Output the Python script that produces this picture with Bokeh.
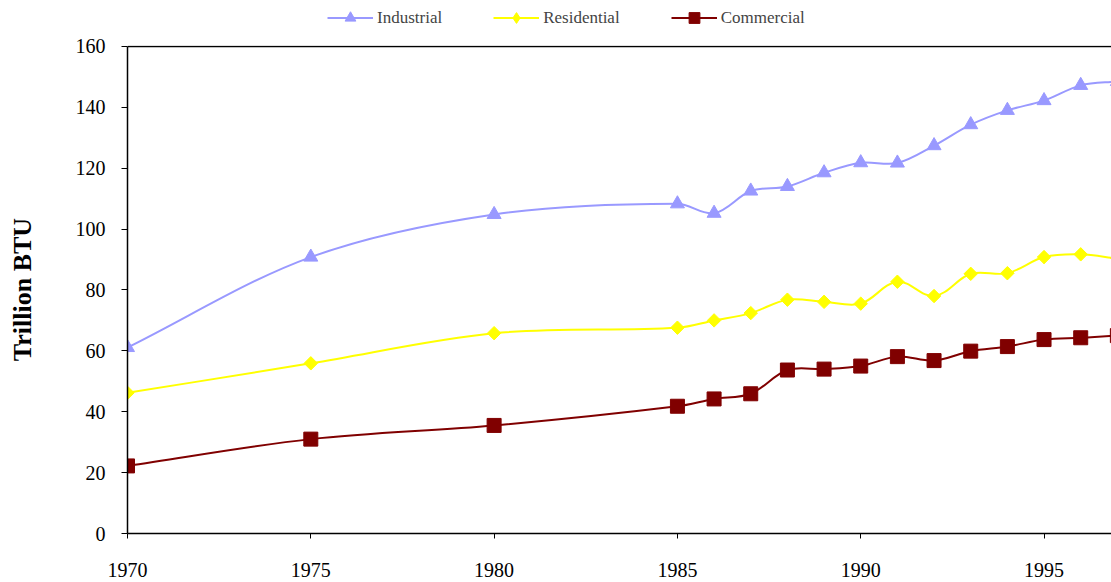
import numpy as np
from bokeh.plotting import figure
from bokeh.layouts import column
from bokeh.models import Legend, LegendItem, Span, Range1d, FixedTicker
from bokeh.embed import file_html
from bokeh.resources import INLINE

years = [1970, 1975, 1980, 1985, 1986, 1987, 1988, 1989, 1990, 1991,
         1992, 1993, 1994, 1995, 1996, 1997]
industrial = [61.1, 90.8, 104.8, 108.3, 105.2, 112.5, 114.0, 118.5, 121.8, 121.7,
              127.4, 134.3, 139.0, 142.2, 147.2, 148.5]
residential = [46.2, 55.9, 65.8, 67.6, 70.0, 72.4, 76.8, 76.1, 75.5, 82.7,
               78.0, 85.3, 85.5, 90.8, 91.7, 90.3]
commercial = [22.2, 31.0, 35.5, 41.8, 44.2, 45.9, 53.7, 54.0, 55.0, 58.1,
              56.8, 59.9, 61.4, 63.7, 64.3, 65.0]
x_ticks = [1970, 1975, 1980, 1985, 1990, 1995]
y_ticks = [0, 20, 40, 60, 80, 100, 120, 140, 160]

FONT = "Liberation Serif"
PX_PER_YEAR = 36.64   # screen scale used only to shape the smoothing
PX_PER_UNIT = 3.044


def smooth_segments(x, y, t=1.0 / 3.0):
    """Bezier control points for a smoothed line through the data points."""
    x = np.asarray(x, dtype=float)
    y = np.asarray(y, dtype=float)
    X = x * PX_PER_YEAR
    Y = y * PX_PER_UNIT
    n = len(x)
    dx = np.zeros(n)
    dy = np.zeros(n)
    for i in range(n):
        a = max(i - 1, 0)
        b = min(i + 1, n - 1)
        vx, vy = X[b] - X[a], Y[b] - Y[a]
        L = np.hypot(vx, vy)
        dx[i], dy[i] = vx / L, vy / L
    seg = np.hypot(np.diff(X), np.diff(Y))
    cX0 = X[:-1] + dx[:-1] * seg * t
    cY0 = Y[:-1] + dy[:-1] * seg * t
    cX1 = X[1:] - dx[1:] * seg * t
    cY1 = Y[1:] - dy[1:] * seg * t
    return dict(x0=x[:-1], y0=y[:-1], x1=x[1:], y1=y[1:],
                cx0=cX0 / PX_PER_YEAR, cy0=cY0 / PX_PER_UNIT,
                cx1=cX1 / PX_PER_YEAR, cy1=cY1 / PX_PER_UNIT)


# ---- main chart -----------------------------------------------------------
p = figure(width=1111, height=545, output_backend="svg", toolbar_location=None,
           x_range=Range1d(1970, 1996.84), y_range=Range1d(0, 160.3),
           min_border_left=127, min_border_right=0, min_border_top=8,
           min_border_bottom=49)
p.outline_line_color = None
p.xgrid.visible = False
p.ygrid.visible = False
p.background_fill_color = "white"
p.border_fill_color = "white"

series = [
    ("Industrial", industrial, "#9999FF", "triangle", 14, 0.0, "triangle"),
    ("Residential", residential, "#FFFF00", "square", 9.5, np.pi / 4, "diamond"),
    ("Commercial", commercial, "#800000", "square", 14, 0.0, "square"),
]

for name, vals, color, marker, size, ang, _ in series:
    seg = smooth_segments(years, vals)
    p.bezier(x0=seg["x0"], y0=seg["y0"], x1=seg["x1"], y1=seg["y1"],
             cx0=seg["cx0"], cy0=seg["cy0"], cx1=seg["cx1"], cy1=seg["cy1"],
             line_color=color, line_width=2)
    p.scatter(years, vals, marker=marker, size=size, angle=ang,
              fill_color=color, line_color=color)

p.add_layout(Span(location=160, dimension="width", line_color="black",
                  line_width=1.5))

for ax in (p.xaxis[0], p.yaxis[0]):
    ax.axis_line_color = "black"
    ax.axis_line_width = 1.5
    ax.major_tick_line_color = "black"
    ax.major_tick_line_width = 1
    ax.major_tick_in = 0
    ax.minor_tick_line_color = None
    ax.major_label_text_font = FONT
    ax.major_label_text_font_size = "20px"
    ax.major_label_text_color = "black"

p.xaxis[0].ticker = FixedTicker(ticks=x_ticks)
p.xaxis[0].major_tick_out = 5
p.xaxis[0].major_label_standoff = 24
p.yaxis[0].ticker = FixedTicker(ticks=y_ticks)
p.yaxis[0].bounds = (0, 160)
p.yaxis[0].major_tick_out = 6
p.yaxis[0].major_label_standoff = 16
p.yaxis[0].axis_label = "Trillion BTU"
p.yaxis[0].axis_label_text_font = FONT
p.yaxis[0].axis_label_text_font_size = "26px"
p.yaxis[0].axis_label_text_font_style = "bold"
p.yaxis[0].axis_label_text_color = "black"
p.yaxis[0].axis_label_standoff = 36

# ---- legend strip above the chart (its own series sit outside its view) ----
lg = figure(width=1111, height=37, output_backend="svg", toolbar_location=None,
            x_range=Range1d(0, 1), y_range=Range1d(0, 1),
            x_axis_location=None, y_axis_location=None,
            min_border_left=0, min_border_right=0, min_border_top=0,
            min_border_bottom=0)
lg.xgrid.visible = False
lg.ygrid.visible = False
lg.outline_line_color = None
lg.background_fill_color = "white"
lg.border_fill_color = "white"

items = []
for name, vals, color, marker, size, ang, key_marker in series:
    k1 = lg.line(x=years, y=vals, line_color=color, line_width=2)
    k2 = lg.scatter(x=years, y=vals, marker=key_marker, fill_color=color,
                    line_color=color)
    items.append(LegendItem(label=name, renderers=[k1, k2]))

legend = Legend(items=items, orientation="horizontal", location=(200, 6),
                label_text_font=FONT, label_text_font_size="17px",
                glyph_width=46, glyph_height=27, label_standoff=4, spacing=51,
                padding=0, margin=0, border_line_color=None,
                background_fill_alpha=0)
lg.add_layout(legend, "center")

layout = column(lg, p, spacing=0)
open("out.html", "w").write(file_html(layout, INLINE))
